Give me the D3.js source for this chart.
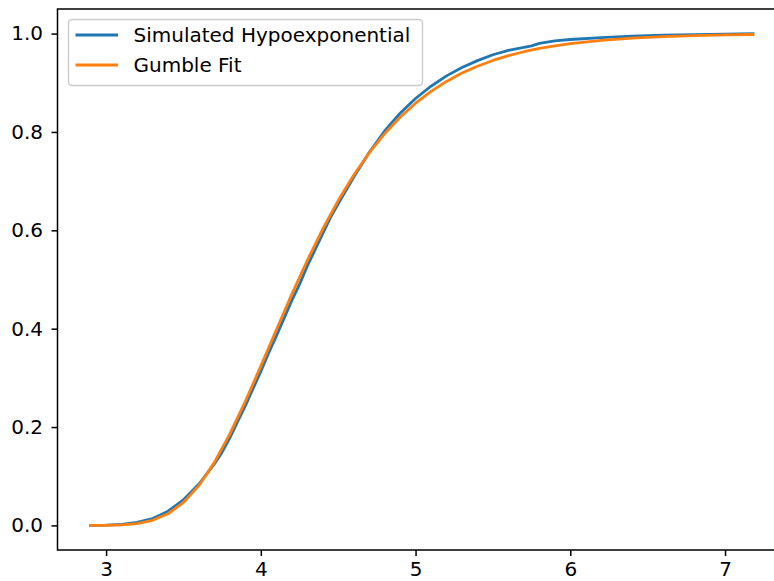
<!DOCTYPE html>
<html>
<head>
<meta charset="utf-8">
<script src="https://cdn.jsdelivr.net/npm/d3@7"></script>
<style>
  body { margin: 0; background: #fff; }
  text { font-family: "DejaVu Sans", sans-serif; }
</style>
</head>
<body>
<div id="chart"></div>
<script>
// values
const simX = [2.9, 3.0, 3.1, 3.2, 3.3, 3.35, 3.4, 3.5, 3.6, 3.7, 3.75, 3.8, 3.85, 3.9, 4.0, 4.05, 4.1, 4.2, 4.25, 4.3, 4.4, 4.45, 4.5, 4.6, 4.7, 4.8, 4.9, 5.0, 5.1, 5.2, 5.3, 5.4, 5.5, 5.6, 5.7, 5.75, 5.8, 5.9, 6.0, 6.2, 6.4, 6.6, 6.8, 7.0, 7.18];
const simY = [0.000, 0.0005, 0.002, 0.006, 0.014, 0.021, 0.029, 0.052, 0.084, 0.125, 0.149, 0.178, 0.211, 0.243, 0.313, 0.350, 0.385, 0.457, 0.490, 0.527, 0.593, 0.626, 0.654, 0.708, 0.758, 0.802, 0.838, 0.868, 0.893, 0.914, 0.931, 0.945, 0.957, 0.966, 0.972, 0.975, 0.980, 0.985, 0.988, 0.992, 0.995, 0.997, 0.998, 0.999, 1.000];

const fitX = [2.9, 3.0, 3.1, 3.2, 3.3, 3.4, 3.5, 3.6, 3.7, 3.8, 3.9, 4.0, 4.1, 4.2, 4.3, 4.4, 4.5, 4.6, 4.7, 4.8, 4.9, 5.0, 5.1, 5.2, 5.3, 5.4, 5.5, 5.6, 5.7, 5.8, 5.9, 6.0, 6.2, 6.4, 6.6, 6.8, 7.0, 7.18];
const fitY = [0.0000, 0.0002, 0.0011, 0.0038, 0.0104, 0.0237, 0.0466, 0.0813, 0.1282, 0.1860, 0.2523, 0.3238, 0.3973, 0.4697, 0.5386, 0.6026, 0.6605, 0.7121, 0.7573, 0.7964, 0.8299, 0.8585, 0.8826, 0.9028, 0.9197, 0.9337, 0.9454, 0.9551, 0.9631, 0.9697, 0.9751, 0.9795, 0.9863, 0.9908, 0.9938, 0.9958, 0.9972, 0.9981];

const xTicks = [3, 4, 5, 6, 7];
const yTicks = [0.0, 0.2, 0.4, 0.6, 0.8, 1.0];
const seriesNames = ['Simulated Hypoexponential', 'Gumble Fit'];
const colors = ['#1f77b4', '#ff7f0e'];

const width = 774, height = 581;
const margin = { top: 9, left: 57.5, bottom: 550 };
const plotRight = 786;
const fontSize = '20px';

const svg = d3.select('#chart').append('svg')
  .attr('width', width)
  .attr('height', height);

const x = d3.scaleLinear()
  .domain([2.686, 7.394])
  .range([margin.left, plotRight]);

const y = d3.scaleLinear()
  .domain([-0.05, 1.05])
  .range([margin.bottom, margin.top]);

const line = d3.line()
  .x(d => x(d[0]))
  .y(d => y(d[1]));

const series = [
  d3.zip(simX, simY),
  d3.zip(fitX, fitY),
];

svg.append('g')
  .selectAll('path')
  .data(series)
  .enter().append('path')
  .attr('d', line)
  .attr('fill', 'none')
  .attr('stroke', (_, i) => colors[i])
  .attr('stroke-width', 2.8)
  .attr('stroke-linejoin', 'round')
  .attr('stroke-linecap', 'square');

function xAxis(g) {
  g
    .attr('transform', `translate(0,${margin.bottom})`)
    .call(d3.axisBottom(x).tickValues(xTicks).tickFormat(d3.format('d')).tickSize(6).tickPadding(6))
    .call(g => g.select('.domain').remove());
}

function yAxis(g) {
  g
    .attr('transform', `translate(${margin.left},0)`)
    .call(d3.axisLeft(y).tickValues(yTicks).tickFormat(d3.format('.1f')).tickSize(6).tickPadding(8.5))
    .call(g => g.select('.domain').remove());
}

svg.append('g').attr('class', 'axis-x').call(xAxis);
svg.append('g').attr('class', 'axis-y').call(yAxis);

svg.selectAll('.tick line').attr('stroke', '#000').attr('stroke-width', 1.5);
svg.selectAll('.tick text')
  .attr('fill', '#000')
  .style('font-size', fontSize)
  .style('font-family', '"DejaVu Sans", sans-serif');

// spines (right one sits past the window edge)
svg.append('rect')
  .attr('x', margin.left)
  .attr('y', margin.top)
  .attr('width', plotRight - margin.left)
  .attr('height', margin.bottom - margin.top)
  .attr('fill', 'none')
  .attr('stroke', '#000')
  .attr('stroke-width', 1.5);

// legend
const legend = svg.append('g').attr('transform', 'translate(68.5,19.5)');
legend.append('rect')
  .attr('width', 354)
  .attr('height', 66)
  .attr('rx', 3.5)
  .attr('fill', '#fff')
  .attr('fill-opacity', 0.8)
  .attr('stroke', '#cccccc')
  .attr('stroke-width', 1.4);

const items = legend.selectAll('g.item')
  .data(seriesNames)
  .enter().append('g')
  .attr('class', 'item')
  .attr('transform', (_, i) => `translate(0,${15.5 + i * 30})`);

items.append('line')
  .attr('x1', 7).attr('x2', 49.5)
  .attr('stroke', (_, i) => colors[i])
  .attr('stroke-width', 2.8);

items.append('text')
  .attr('x', 65)
  .attr('dy', '0.36em')
  .style('font-size', fontSize)
  .attr('fill', '#000')
  .text(d => d);
</script>
</body>
</html>
